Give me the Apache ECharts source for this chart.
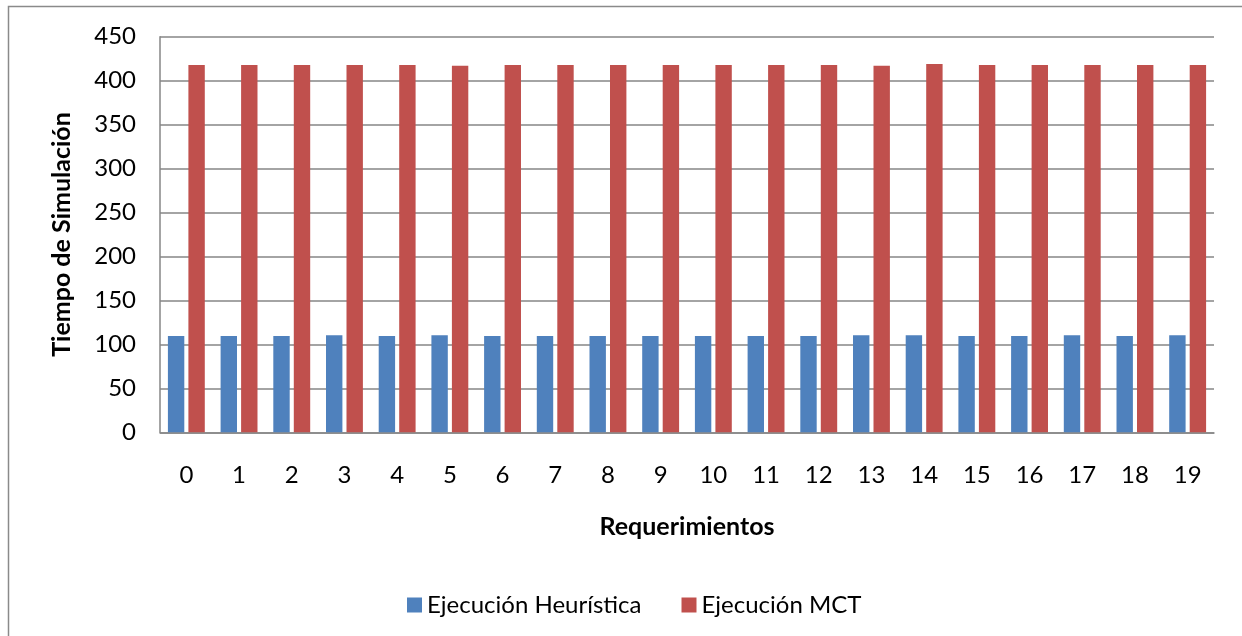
<!DOCTYPE html>
<html>
<head>
<meta charset="utf-8">
<script src="https://cdn.jsdelivr.net/npm/echarts@6/dist/echarts.min.js"></script>
<style>html,body{margin:0;padding:0;background:#fff;}#c{width:1242px;height:636px;}</style>
</head>
<body>
<div id="c"></div>
<script>
const categories = ['0','1','2','3','4','5','6','7','8','9','10','11','12','13','14','15','16','17','18','19'];
const heuristica = [109.5,109.5,109.5,110.5,109.5,110.5,109.5,109.5,109.5,109.5,109.5,109.5,109.5,110.5,110.5,109.5,109.5,110.5,109.5,110.5];
const mct = [417.7,417.7,417.7,417.7,417.7,417,417.7,417.7,417.7,417.7,417.7,417.7,417.7,417,419,417.7,417.7,417.7,417.7,417.7];
const seriesNames = ['Ejecución Heurística','Ejecución MCT'];
const yTicks = {min:0, max:450, interval:50};

const FONT = 'Lato, "Open Sans", sans-serif';
const chart = echarts.init(document.getElementById('c'), null, {renderer:'canvas'});
chart.setOption({
  animation:false,
  backgroundColor:'#fff',
  textStyle:{fontFamily:FONT},
  graphic:[{type:'rect', silent:true, z:-10,
    shape:{x:8.5,y:6.5,width:1400,height:800},
    style:{fill:'none',stroke:'#8a8a8a',lineWidth:1.5}}],
  grid:{left:160,right:28,top:36.7,bottom:203.7,containLabel:false},
  legend:{
    data:seriesNames, left:402, top:588, itemWidth:15, itemHeight:15, itemGap:40,
    icon:'rect',
    textStyle:{fontSize:24,color:'#000',fontFamily:FONT}
  },
  xAxis:{
    type:'category', data:categories,
    name:'Requerimientos', nameLocation:'middle', nameGap:82,
    nameTextStyle:{fontSize:25,fontWeight:'bold',color:'#000',fontFamily:FONT},
    axisLine:{lineStyle:{color:'#868686',width:1.5}},
    axisTick:{show:false},
    axisLabel:{fontSize:24,color:'#000',margin:31,fontFamily:FONT}
  },
  yAxis:{
    type:'value', min:yTicks.min, max:yTicks.max, interval:yTicks.interval,
    name:'Tiempo de Simulación', nameLocation:'middle', nameGap:86,
    nameTextStyle:{fontSize:25,fontWeight:'bold',color:'#000',fontFamily:FONT},
    axisLine:{show:true,lineStyle:{color:'#868686',width:1.5}},
    axisTick:{show:false},
    splitLine:{lineStyle:{color:'#868686',width:1.5}},
    axisLabel:{fontSize:24,color:'#000',margin:24,fontFamily:FONT}
  },
  series:[
    {name:seriesNames[0], type:'bar', data:heuristica, barGap:'25%', barCategoryGap:'30%',
     itemStyle:{color:'#4F81BD'}},
    {name:seriesNames[1], type:'bar', data:mct, barGap:'25%', barCategoryGap:'30%',
     itemStyle:{color:'#C0504D'}}
  ]
});
</script>
</body>
</html>
